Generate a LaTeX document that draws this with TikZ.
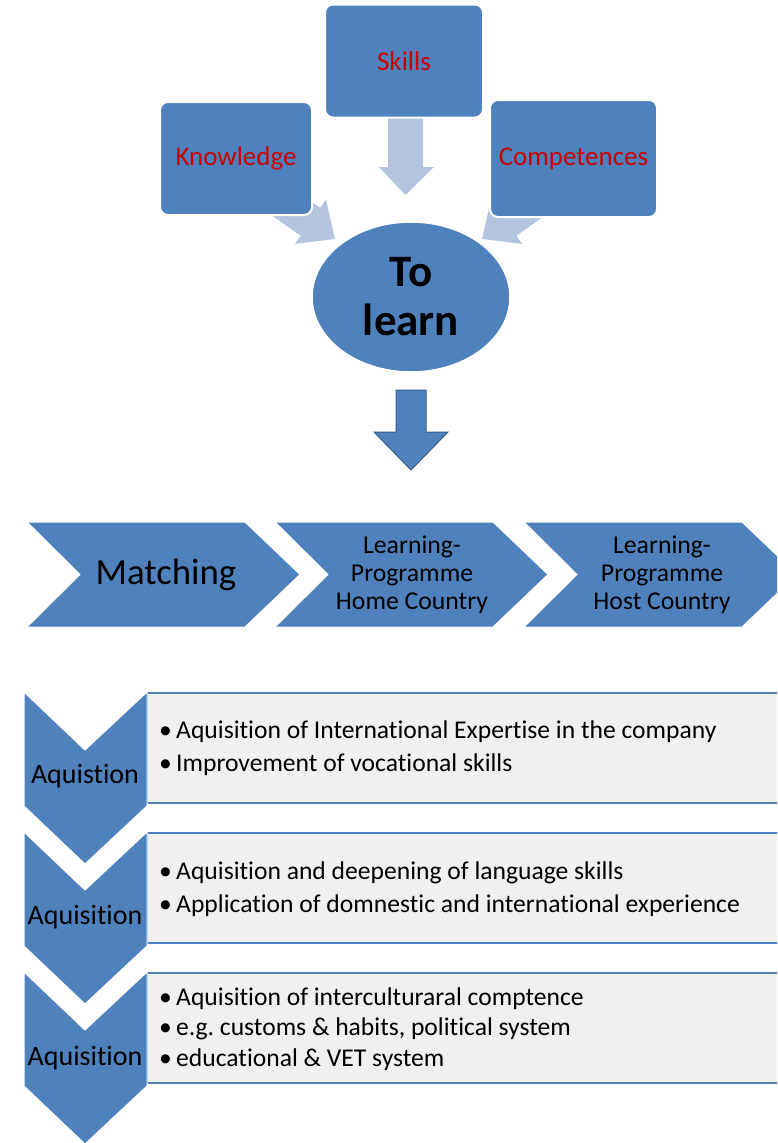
\documentclass[tikz,border=0pt]{standalone}
\usepackage{fontspec}
\setmainfont[Ligatures={NoCommon}]{Carlito}
\usetikzlibrary{shapes.geometric}
\definecolor{mblue}{RGB}{79,129,189}
\definecolor{lblue}{RGB}{178,196,222}
\definecolor{dblue}{RGB}{56,93,138}
\definecolor{lgray}{RGB}{240,240,240}
\definecolor{mred}{RGB}{205,0,0}
\frenchspacing
\begin{document}
\begin{tikzpicture}[x=1pt,y=-1pt,
  topbox/.style={rectangle, rounded corners=8pt, fill=mblue, draw=white, line width=2pt, text=mred, font=\fontsize{27}{32}\selectfont, inner sep=0pt},
  larrow/.style={fill=lblue},
  chev/.style={fill=mblue, draw=white, line width=1pt},
  chevtext/.style={align=center, font=\fontsize{25.7}{28}\selectfont, inner sep=0pt},
  lab/.style={font=\fontsize{28}{30}\selectfont, inner sep=0pt},
  bul/.style={anchor=west, align=left, font=\fontsize{25.6}{33}\selectfont, inner sep=0pt},
  rowbox/.style={fill=lgray, draw=mblue, line width=2.5pt},
  vchev/.style={fill=mblue, draw=white, line width=1pt}]
\useasboundingbox (0,0) rectangle (777,1143);
\clip (0,0) rectangle (777,1143);
\fill[white] (0,0) rectangle (777,1143);

% light arrows (behind boxes)
\begin{scope}[shift={(335,239)}, rotate=-35]
  \fill[larrow] (0,0) -- (-30,27) -- (-30,17) -- (-90,17) -- (-90,-17) -- (-30,-17) -- (-30,-27) -- cycle;
\end{scope}
\begin{scope}[shift={(482,239)}, rotate=-145]
  \fill[larrow] (0,0) -- (-30,27) -- (-30,17) -- (-90,17) -- (-90,-17) -- (-30,-17) -- (-30,-27) -- cycle;
\end{scope}
\fill[larrow] (388,110) -- (423,110) -- (423,167) -- (434,167) -- (405.5,195) -- (379,167) -- (388,167) -- cycle;

% top boxes
\node[topbox, minimum width=158pt, minimum height=113pt] (skills) at (404,61) {Skills};
\node[topbox, minimum width=152pt, minimum height=113pt] (know) at (236,158.5) {Knowledge};
\node[topbox, minimum width=167pt, minimum height=117pt] (comp) at (573.5,158.5) {Competences};

% ellipse
\node[ellipse, fill=mblue, draw=white, line width=1.5pt, minimum width=198pt, minimum height=150pt, inner sep=0pt, align=center, font=\fontsize{45}{49}\selectfont\bfseries] (learn) at (411,297) {To\\learn};

% down arrow
\draw[fill=mblue, draw=dblue, line width=1pt] (396,390) -- (426,390) -- (426,432) -- (448,432) -- (411,470) -- (374,432) -- (396,432) -- cycle;

% chevron row
\foreach \L in {27,275,524}{
  \draw[chev] (\L,522) -- (\L+218,522) -- (\L+273,574.5) -- (\L+218,627) -- (\L,627) -- (\L+53,574.5) -- cycle;
}
\node[font=\fontsize{36.8}{40}\selectfont, inner sep=0pt] (match) at (166,575) {Matching};
\node[chevtext] (home) at (412,575) {Learning-\\Programme\\Home Country};
\node[chevtext] (host) at (662,575) {Learning-\\Programme\\Host Country};

% rows
\foreach \Y in {692,832,972}{
  \draw[rowbox] (147,\Y+1) -- (800,\Y+1) -- (800,\Y+111) -- (147,\Y+111) -- cycle;
  \draw[vchev] (24,\Y) -- (85,\Y+58) -- (147,\Y) -- (147,\Y+114) -- (85,\Y+172) -- (24,\Y+114) -- cycle;
}
\node[lab] (a1) at (85,776) {Aquistion};
\node[lab] (a2) at (85,917) {Aquisition};
\node[lab] (a3) at (85,1058) {Aquisition};

\node[bul] (b1) at (159,748) {\makebox[17pt][l]{•}Aquisition of International Expertise in the company\\\makebox[17pt][l]{•}Improvement of vocational skills};
\node[bul] (b2) at (159,889) {\makebox[17pt][l]{•}Aquisition and deepening of language skills\\\makebox[17pt][l]{•}Application of domnestic and international experience};
\node[bul, font=\fontsize{25.6}{30.5}\selectfont] (b3) at (159,1029) {\makebox[17pt][l]{•}Aquisition of interculturaral comptence\\\makebox[17pt][l]{•}e.g. customs \& habits, political system\\\makebox[17pt][l]{•}educational \& VET system};
\end{tikzpicture}
\end{document}
